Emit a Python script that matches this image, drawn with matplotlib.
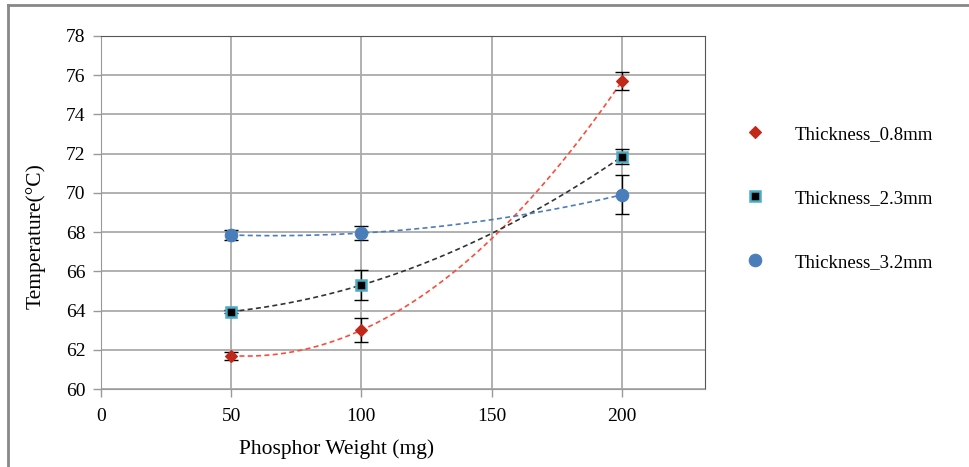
import numpy as np
import matplotlib.pyplot as plt
from matplotlib.lines import Line2D

plt.rcParams['font.family'] = ['Liberation Serif', 'DejaVu Serif']

weight = [50, 100, 200]
t08 = [61.7, 63.0, 75.7]
t23 = [63.95, 65.3, 71.85]
t32 = [67.85, 67.95, 69.9]
err08 = [0.2, 0.6, 0.45]
err23 = [0.1, 0.75, 0.4]
err32 = [0.25, 0.35, 1.0]
labels = ['Thickness_0.8mm', 'Thickness_2.3mm', 'Thickness_3.2mm']

fig = plt.figure(figsize=(9.69, 4.67), dpi=100)
ax = fig.add_axes([0.104, 0.167, 0.624, 0.756])

# figure border (top and left only visible)
fig.add_artist(Line2D([0.008, 1.0], [0.989, 0.989], color='#888888', lw=2, transform=fig.transFigure))
fig.add_artist(Line2D([0.008, 0.008], [0.0, 0.989], color='#888888', lw=2, transform=fig.transFigure))

series = [
    (t08, err08, 'D', '#c0281a', '#c0281a', 6, '#ff4b3a'),
    (t23, err23, 's', 'black', '#4bacc6', 7, '#333333'),
    (t32, err32, 'o', '#4a7ebb', '#4a7ebb', 9, '#4a7ebb'),
]

xs = np.linspace(weight[0], weight[-1], 200)
handles = []
for (y, e, m, fc, ec, ms, lc), lab in zip(series, labels):
    coef = np.polyfit(weight, y, 2)
    ax.plot(xs, np.polyval(coef, xs), color=lc, lw=1.2, ls=(0, (3, 2)), zorder=3)
    ax.errorbar(weight, y, yerr=e, fmt='none', ecolor='black', elinewidth=1, capsize=5, capthick=1, zorder=4)
    h, = ax.plot(weight, y, ls='none', marker=m, markerfacecolor=fc, markeredgecolor=ec,
                 markeredgewidth=1.8 if m == 's' else 0.8, markersize=ms, zorder=5)
    handles.append(h)

ax.set_xlim(0, 232)
ax.set_ylim(60, 78)
ax.set_xticks([0, 50, 100, 150, 200])
ax.set_yticks(np.arange(60, 79, 2))
ax.grid(True, color='#aaaaaa', lw=1.3)
ax.set_axisbelow(True)
for s in ['left', 'bottom']:
    ax.spines[s].set_color('#999999')
for s in ['top', 'right']:
    ax.spines[s].set_color('#555555')
ax.tick_params(axis='both', colors='#999999', labelcolor='black', labelsize=14, length=6, width=1)
ax.tick_params(axis='x', pad=8)
ax.tick_params(axis='y', pad=5)
ax.set_xlabel('Phosphor Weight (mg)', fontsize=15.5)
ax.xaxis.set_label_coords(0.39, -0.142)
ax.set_ylabel('Temperature(°C)', fontsize=15.5)
ax.yaxis.set_label_coords(-0.091, 0.433)

fig.legend(handles, labels, loc='center left', bbox_to_anchor=(0.752, 0.575), frameon=False,
           fontsize=13.5, labelspacing=2.5, handletextpad=1.6, handlelength=1.0)

fig.savefig('out.png', dpi=100)
